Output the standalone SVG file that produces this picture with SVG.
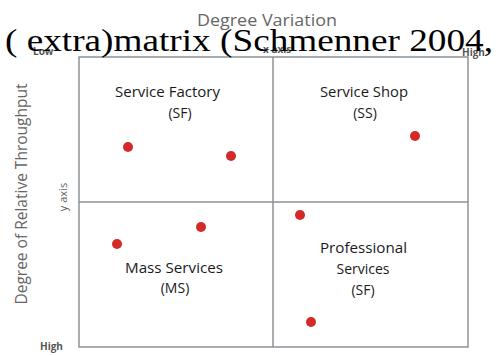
<svg xmlns="http://www.w3.org/2000/svg" width="498" height="356" viewBox="0 0 498 356">
<style>
.grid{fill:none;stroke:#8c9298;stroke-width:1.5}
.dot{fill:#d42a27}
.q{font-family:"Open Sans","Liberation Sans",sans-serif;font-size:14px;fill:#1a1a1a;text-anchor:middle}
.ax{font-family:"Open Sans","Liberation Sans",sans-serif;fill:#666}
.tick{font-family:"Open Sans","Liberation Sans",sans-serif;font-size:10px;fill:#555;font-weight:bold}
</style>
<rect width="498" height="356" fill="#fff"/>
<g id="grid">
<rect class="grid" x="79" y="57" width="389" height="290"/>
<line class="grid" x1="273" y1="57" x2="273" y2="347"/>
<line class="grid" x1="79" y1="202" x2="468" y2="202"/>
</g>
<text class="ax" x="197" y="26" font-size="16" textLength="140" lengthAdjust="spacingAndGlyphs">Degree Variation</text>
<text class="tick" x="33" y="55" fill="#777">Low</text>
<text class="tick" x="263" y="53" font-size="8" fill="#999">x axis</text>
<text class="tick" x="462" y="56">High</text>
<text class="ax" x="0" y="0" font-size="15.5" text-anchor="middle" transform="translate(27,194) rotate(-90)">Degree of Relative Throughput</text>
<text class="ax" x="0" y="0" font-size="11" text-anchor="middle" transform="translate(67,197) rotate(-90)">y axis</text>
<text class="tick" x="40" y="350" font-size="11" fill="#333" font-weight="normal">High</text>
<g id="sf">
<text class="q" x="167.5" y="97" textLength="105" lengthAdjust="spacingAndGlyphs">Service Factory</text>
<text class="q" x="180" y="118">(SF)</text>
<circle class="dot" cx="128" cy="147" r="5"/>
<circle class="dot" cx="231" cy="156" r="5"/>
</g>
<g id="ss">
<text class="q" x="364" y="97" textLength="88" lengthAdjust="spacingAndGlyphs">Service Shop</text>
<text class="q" x="365" y="118">(SS)</text>
<circle class="dot" cx="415" cy="136" r="5"/>
</g>
<g id="ms">
<text class="q" x="174" y="273" textLength="98" lengthAdjust="spacingAndGlyphs">Mass Services</text>
<text class="q" x="175" y="293">(MS)</text>
<circle class="dot" cx="117" cy="244" r="5"/>
<circle class="dot" cx="201" cy="227" r="5"/>
</g>
<g id="ps">
<text class="q" x="363.5" y="253" textLength="87" lengthAdjust="spacingAndGlyphs">Professional</text>
<text class="q" x="363" y="274">Services</text>
<text class="q" x="363" y="295">(SF)</text>
<circle class="dot" cx="300" cy="215" r="5"/>
<circle class="dot" cx="311" cy="322" r="5"/>
</g>
<text x="5" y="51" font-family="'Liberation Serif',serif" font-size="32" fill="#000" textLength="488" lengthAdjust="spacingAndGlyphs">( extra)matrix (Schmenner 2004,</text>
</svg>
